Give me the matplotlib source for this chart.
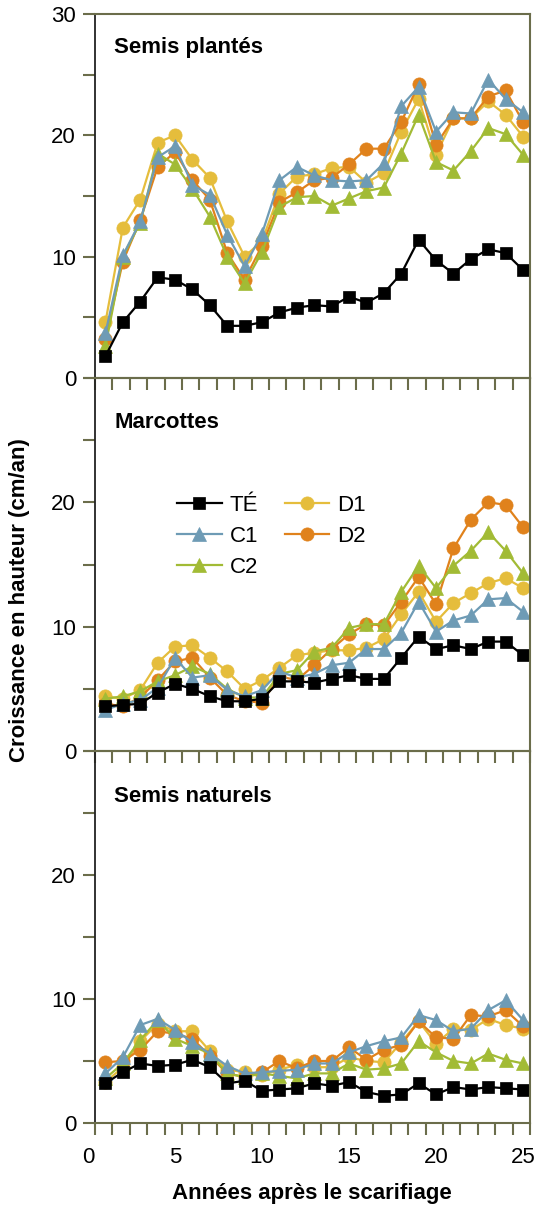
import numpy as np
import matplotlib
matplotlib.use("Agg")
import matplotlib.pyplot as plt
from matplotlib.transforms import ScaledTranslation

plt.rcParams['font.family'] = ['Liberation Sans', 'DejaVu Sans']

# années après le scarifiage (points placés un peu avant chaque année)
annees = np.arange(25) + 0.6

series = ["TÉ", "C1", "C2", "D1", "D2"]

# Semis plantés
sp_te = [1.8, 4.6, 6.3, 8.3, 8.1, 7.3, 6.0, 4.3, 4.3, 4.6, 5.4, 5.8, 6.0, 5.9, 6.7,
         6.2, 7.0, 8.6, 11.4, 9.7, 8.6, 9.8, 10.6, 10.3, 8.9]
sp_c1 = [3.7, 10.1, 12.9, 18.2, 19.1, 15.9, 15.1, 11.8, 9.2, 11.9, 16.3, 17.4, 16.7, 16.3, 16.2,
         16.3, 17.7, 22.4, 24.0, 20.3, 21.9, 21.8, 24.6, 23.0, 21.9]
sp_c2 = [2.6, 10.0, 12.8, 18.5, 17.6, 15.6, 13.3, 10.0, 7.8, 10.4, 14.1, 14.9, 15.0, 14.2, 14.8,
         15.4, 15.7, 18.5, 21.7, 17.8, 17.1, 18.7, 20.6, 20.1, 18.4]
sp_d1 = [4.6, 12.4, 14.7, 19.4, 20.0, 18.0, 16.5, 12.9, 10.0, 11.3, 15.2, 16.6, 16.8, 17.3, 17.4,
         16.1, 16.9, 20.3, 23.0, 18.4, 21.4, 21.4, 22.8, 21.7, 19.9]
sp_d2 = [3.2, 9.6, 13.0, 17.4, 18.6, 16.3, 14.7, 10.3, 8.1, 10.9, 14.5, 15.3, 16.3, 16.5, 17.6,
         18.9, 18.9, 21.1, 24.2, 19.2, 21.4, 21.4, 23.2, 23.7, 21.1]

# Marcottes
ma_te = [3.6, 3.7, 3.8, 4.7, 5.4, 5.0, 4.4, 4.0, 4.0, 4.2, 5.6, 5.6, 5.5, 5.8, 6.1,
         5.8, 5.8, 7.5, 9.2, 8.2, 8.5, 8.2, 8.8, 8.8, 7.7]
ma_c1 = [3.3, 3.8, 4.1, 5.1, 7.5, 5.9, 6.1, 4.9, 4.4, 4.9, 6.4, 5.9, 6.2, 6.9, 7.1,
         8.2, 8.2, 9.5, 12.0, 9.6, 10.5, 10.9, 12.2, 12.3, 11.2]
ma_c2 = [4.2, 4.4, 4.8, 5.6, 6.1, 6.8, 6.2, 5.0, 4.3, 4.3, 6.2, 6.5, 8.0, 8.3, 9.9,
         10.2, 10.2, 12.8, 14.9, 13.1, 14.9, 16.1, 17.6, 16.1, 14.3]
ma_d1 = [4.4, 4.2, 4.9, 7.1, 8.4, 8.5, 7.5, 6.4, 5.0, 5.7, 6.7, 7.7, 7.9, 8.1, 8.1,
         8.3, 9.0, 11.0, 12.8, 10.4, 11.9, 12.7, 13.5, 13.9, 13.1]
ma_d2 = [3.8, 3.6, 4.3, 5.7, 7.2, 7.5, 5.9, 4.5, 4.0, 3.9, 6.0, 5.7, 6.9, 8.2, 9.4,
         10.2, 10.1, 12.0, 14.0, 11.8, 16.3, 18.6, 20.0, 19.8, 18.0]

# Semis naturels
sn_te = [3.2, 4.1, 4.8, 4.6, 4.7, 5.1, 4.5, 3.2, 3.4, 2.6, 2.7, 2.8, 3.2, 3.0, 3.3,
         2.5, 2.2, 2.3, 3.2, 2.3, 2.9, 2.7, 2.9, 2.8, 2.7]
sn_c1 = [4.0, 5.3, 7.9, 8.4, 7.5, 6.5, 5.6, 4.6, 4.0, 4.1, 4.2, 4.3, 4.8, 4.8, 5.7,
         6.2, 6.6, 6.9, 8.7, 8.3, 7.4, 7.6, 9.1, 9.9, 8.3]
sn_c2 = [3.6, 4.8, 6.7, 8.3, 6.8, 6.2, 5.6, 4.0, 3.7, 4.0, 3.8, 3.6, 4.0, 4.0, 4.8,
         4.3, 4.4, 4.8, 6.6, 5.7, 5.0, 4.8, 5.6, 5.1, 4.8]
sn_d1 = [3.3, 4.5, 6.6, 8.0, 7.4, 7.4, 5.8, 4.3, 4.1, 3.9, 4.3, 4.7, 4.5, 4.5, 5.3,
         5.0, 4.9, 6.5, 8.2, 6.4, 7.6, 7.5, 8.4, 7.9, 7.6]
sn_d2 = [4.9, 5.0, 5.9, 7.4, 7.2, 6.8, 5.4, 4.0, 3.7, 4.1, 5.0, 4.4, 5.0, 5.0, 6.1,
         5.1, 5.9, 6.3, 8.2, 6.9, 6.8, 8.7, 8.6, 9.1, 7.8]

panels = [
    ("Semis plantés", {"TÉ": sp_te, "C1": sp_c1, "C2": sp_c2, "D1": sp_d1, "D2": sp_d2}),
    ("Marcottes", {"TÉ": ma_te, "C1": ma_c1, "C2": ma_c2, "D1": ma_d1, "D2": ma_d2}),
    ("Semis naturels", {"TÉ": sn_te, "C1": sn_c1, "C2": sn_c2, "D1": sn_d1, "D2": sn_d2}),
]

styles = {
    "TÉ": dict(color="#000000", marker="s", ms=9),
    "C1": dict(color="#6e9bb5", marker="^", ms=10),
    "C2": dict(color="#a2bb35", marker="^", ms=10),
    "D1": dict(color="#e5bd3c", marker="o", ms=9.5),
    "D2": dict(color="#e0821c", marker="o", ms=9.5),
}
draw_order = ["D1", "D2", "C2", "C1", "TÉ"]
olive = "#6b6d4b"

W, H = 535, 1207
fig = plt.figure(figsize=(W / 100, H / 100), dpi=100)

left, right = 95, 530
rows = [(14, 378), (378, 751), (751, 1123)]
title_y = [0.907, 0.882, 0.877]

axes = []
for k, ((name, data), (top, bot)) in enumerate(zip(panels, rows)):
    ax = fig.add_axes([left / W, 1 - bot / H, (right - left) / W, (bot - top) / H])
    ax.set_facecolor("none")
    lines = {}
    for s in draw_order:
        st = styles[s]
        ln, = ax.plot(annees, data[s], color=st["color"], marker=st["marker"],
                      ms=st["ms"], lw=1.6, mec=st["color"], mew=0.5, clip_on=False)
        lines[s] = ln
    ax.set_xlim(0, 25)
    ax.set_ylim(0, 30)
    ax.set_yticks(range(0, 31, 5))
    if k == 0:
        ax.set_yticklabels(["0", "", "10", "", "20", "", "30"])
    else:
        ax.set_yticklabels(["0", "", "10", "", "20", "", ""])
    ax.set_xticks(range(0, 26, 5))
    ax.set_xticks(range(0, 26), minor=True)
    if k < 2:
        ax.set_xticklabels([])
    ax.tick_params(axis="both", which="both", direction="out", color=olive,
                   width=1.5, labelsize=16, length=8.6, pad=5)
    ax.tick_params(axis="x", which="major", pad=9)
    for sp in ["top", "right", "bottom"]:
        ax.spines[sp].set_color(olive)
        ax.spines[sp].set_linewidth(1.5)
    ax.spines["left"].set_color("#222222")
    ax.spines["left"].set_linewidth(1.3)
    ax.text(0.044, title_y[k], name, transform=ax.transAxes, fontsize=16,
            fontweight="bold", va="center", ha="left")
    axes.append((ax, lines))

# étiquettes de l'axe x légèrement décalées vers la gauche, comme dans l'original
ax3 = axes[2][0]
shift = ScaledTranslation(-7 / 100, 0, fig.dpi_scale_trans)
for lab in ax3.get_xticklabels():
    lab.set_transform(lab.get_transform() + shift)

# légende dans le panneau Marcottes
ax2, lines2 = axes[1]
ax2.legend([lines2[s] for s in series], series, ncol=2, frameon=False,
           loc="upper left", bbox_to_anchor=(0.189, 0.686), borderaxespad=0,
           borderpad=0, fontsize=16, handlelength=2.0, handletextpad=0.35,
           columnspacing=1.2, labelspacing=0.45)

fig.text(20 / W, 1 - 600 / H, "Croissance en hauteur (cm/an)", rotation=90,
         fontsize=16, fontweight="bold", ha="center", va="center")
fig.text(312 / W, 1 - 1193 / H, "Années après le scarifiage", fontsize=16,
         fontweight="bold", ha="center", va="center")

fig.savefig("out.png", dpi=100)
